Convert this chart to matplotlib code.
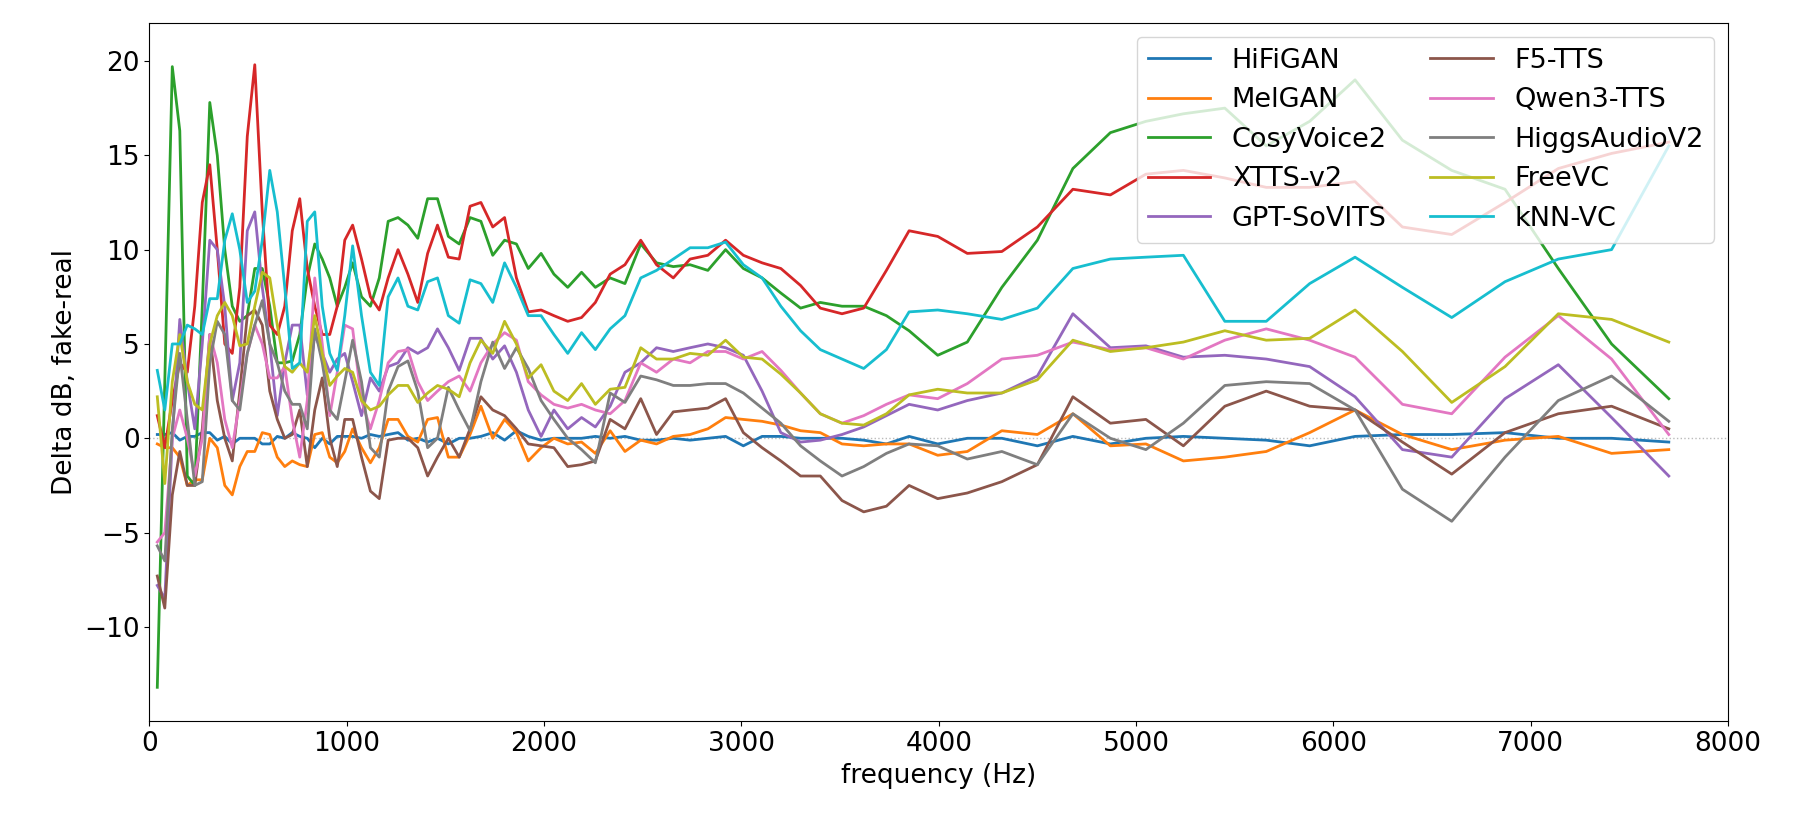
import matplotlib
matplotlib.use("Agg")
import matplotlib.pyplot as plt

freq_low = [40,78,116,154,192,230,268,306,344,382,420,458,496,534,572,610,648,686,724,762,800,838,876,914,952,990,
            1030,1075,1120,1165,1210,1260,1310,1360,1410,1460,1515,1570,1625,1680,1740,1800,1860,1920,1985,2050,2120]
freq_high = [2190,2260,2335,2410,2490,2570,2655,2740,2830,2920,3010,3105,3200,3300,3400,3510,3620,3735,3850,
             3995,4145,4320,4500,4680,4870,5050,5240,5450,5660,5880,6110,6350,6600,6870,7140,7410,7700]
freq = freq_low + freq_high

hifigan = [0.2,0.2,0.3,-0.1,0.1,0.1,0.3,0.3,-0.1,0.1,-0.3,0,0,0,-0.3,-0.3,0.1,0,0.3,0.1,0,-0.5,0,-0.3,0.1,0.1,
           0.1,0,0.2,0.1,0.2,0.3,-0.1,0,-0.2,0,-0.3,0,0,0.1,0.3,-0.1,0.4,0.1,-0.1,0,0] + \
          [0,0.1,0,0.1,-0.1,-0.1,0,-0.1,0,0.1,-0.4,0.1,0.1,0,0,0,-0.1,-0.3,0.1,-0.3,0,0,-0.4,0.1,-0.3,0,0.1,0,-0.1,-0.4,0.1,0.2,0.2,0.3,0,0,-0.2]
melgan = [-0.3,-0.5,-0.5,-1,-2.5,-2.2,-2.2,0,-0.5,-2.5,-3,-1.5,-0.7,-0.7,0.3,0.2,-1,-1.5,-1.2,-1.4,-1.5,0.2,0.3,-1,-1.3,-0.7,
          0.5,-0.5,-1.3,-0.5,1,1,0.1,-0.2,1,1.1,-1,-1,0.2,1.7,0,1,0.3,-1.2,-0.5,0,-0.3] + \
         [-0.2,-0.8,0.4,-0.7,-0.1,-0.3,0.1,0.2,0.5,1.1,1.0,0.9,0.7,0.4,0.3,-0.3,-0.4,-0.3,-0.3,-0.9,-0.7,0.4,0.2,
          1.3,-0.4,-0.3,-1.2,-1.0,-0.7,0.3,1.5,0.2,-0.6,-0.1,0.1,-0.8,-0.6]
cosyvoice2 = [-13.2,3,19.7,16.3,-2,-2.5,7,17.8,15,10,7,6.2,6.5,9,9,7,4,4,4.1,5.5,8.5,10.3,9.5,8.5,7,8,
              9.3,7.5,7,8.5,11.5,11.7,11.3,10.6,12.7,12.7,10.7,10.3,11.7,11.5,9.7,10.5,10.3,9,9.8,8.7,8] + \
             [8.8,8.0,8.5,8.2,10.3,9.3,9.1,9.2,8.9,10.0,9.0,8.5,7.7,6.9,7.2,7.0,7.0,6.5,5.7,4.4,5.1,8.0,10.5,
              14.3,16.2,16.8,17.2,17.5,15.5,16.8,19,15.8,14.2,13.2,9,5,2.1]
xtts = [1.2,-0.5,2,4,3.5,7,12.5,14.5,10,5,4.5,8,16,19.8,12,6,5.5,7,11,12.7,9,7,5.5,5.5,7,10.5,
        11.3,9.5,7.5,6.8,8.5,10,8.7,7.2,9.8,11.3,9.6,9.5,12.3,12.5,11.2,11.7,8.5,6.7,6.8,6.5,6.2] + \
       [6.4,7.2,8.7,9.2,10.5,9.2,8.5,9.5,9.7,10.5,9.7,9.3,9.0,8.1,6.9,6.6,6.9,8.9,11.0,10.7,9.8,9.9,11.2,
        13.2,12.9,14,14.2,13.8,13.3,13.3,13.6,11.2,10.8,12.5,14.3,15.1,15.7]
gptsovits = [-7.8,-8.5,0,6.3,3,0.5,5,10.5,10,7,2,4,11,12,8,5,1.2,4,6,6,2.3,5.5,4.5,3.5,4.2,4.5,
             3,1.2,3.2,2.5,3.8,4,4.8,4.5,4.8,5.8,4.8,3.6,5.3,5.3,4.2,4.9,3.5,1.5,0.1,1.5,0.5] + \
            [1.1,0.6,1.7,3.5,4.0,4.8,4.6,4.8,5.0,4.8,4.4,2.5,0.3,-0.2,-0.1,0.2,0.6,1.2,1.8,1.5,2.0,2.4,3.3,
             6.6,4.8,4.9,4.3,4.4,4.2,3.8,2.2,-0.6,-1.0,2.1,3.9,1.1,-2.0]
f5tts = [-7.3,-9,-3,-0.7,-2.5,-2.5,0.5,5.5,2,0,-1.2,2.5,6.5,6.8,6,2.5,1,0,0.2,1.5,-1.5,1.5,3.2,0,-1.5,1,
         1,-1,-2.8,-3.2,-0.1,0,0,-0.5,-2,-1,0,-1,0.5,2.2,1.5,1.2,0.5,-0.3,-0.4,-0.5,-1.5] + \
        [-1.4,-1.2,1.0,0.5,2.1,0.2,1.4,1.5,1.6,2.1,0.3,-0.5,-1.2,-2.0,-2.0,-3.3,-3.9,-3.6,-2.5,-3.2,-2.9,-2.3,-1.4,
         2.2,0.8,1.0,-0.4,1.7,2.5,1.7,1.5,-0.2,-1.9,0.3,1.3,1.7,0.5]
qwen3tts = [-5.5,-5,0,1.5,0,-2,0,5.5,4,1,-0.5,2,4.5,6,5,3.2,3.2,3.8,1,-1,2,8.5,5,1.2,3.5,6,
            5.8,2,0.5,2,4,4.6,4.7,3,2,2.5,3,3.3,2.5,4,5,5.6,5.2,3,2.3,1.8,1.6] + \
           [1.8,1.5,1.3,2.0,4.0,3.5,4.2,4.0,4.6,4.6,4.2,4.6,3.6,2.4,1.3,0.8,1.2,1.8,2.3,2.1,2.9,4.2,4.4,
            5.1,4.7,4.8,4.2,5.2,5.8,5.2,4.3,1.8,1.3,4.3,6.5,4.2,0.2]
higgs = [-5.7,-6.5,0.5,4.5,1,-2.5,-2.3,4,6.2,5.5,2,1.5,4.5,6,7.3,5,4,2.5,1.8,1.8,0.5,5.8,4,1.5,1,3,
         5.2,3,-0.5,-1,2.5,3.8,4.1,2.5,-0.5,0,2.7,1.5,0.4,3,5.1,3.7,4.8,3.7,2,1,0] + \
        [-0.6,-1.3,2.4,1.9,3.3,3.1,2.8,2.8,2.9,2.9,2.4,1.6,0.8,-0.4,-1.2,-2.0,-1.5,-0.8,-0.3,-0.4,-1.1,-0.7,-1.4,
         1.3,0,-0.6,0.8,2.8,3.0,2.9,1.5,-2.7,-4.4,-1.0,2.0,3.3,0.9]
freevc = [2.2,-2.4,3,5.5,3,1.8,1.5,5,6.5,7.2,6.5,4.9,5,7,8.8,8.5,6,3.8,3.5,4,3.5,6.5,4.5,2.8,3.3,3.7,
          3.5,2,1.5,1.7,2.3,2.8,2.8,1.9,2.4,2.8,2.6,2.2,4,5.2,4.5,6.2,5,3.2,3.9,2.5,2] + \
         [2.9,1.8,2.6,2.7,4.8,4.2,4.2,4.5,4.4,5.2,4.3,4.2,3.4,2.4,1.3,0.8,0.7,1.3,2.3,2.6,2.4,2.4,3.1,
          5.2,4.6,4.8,5.1,5.7,5.2,5.3,6.8,4.6,1.9,3.8,6.6,6.3,5.1]
knnvc = [3.6,1.5,5,5,6,5.8,5.5,7.4,7.4,10.5,11.9,10,7.2,7.8,10.5,14.2,12,8,3.7,4,11.5,12,7,4.5,3.6,6.5,
         10.2,6.5,3.5,2.8,7.5,8.5,7,6.8,8.3,8.5,6.5,6.1,8.4,8.2,7.2,9.3,8,6.5,6.5,5.5,4.5] + \
        [5.6,4.7,5.8,6.5,8.5,8.9,9.5,10.1,10.1,10.4,9.2,8.5,7.0,5.7,4.7,4.2,3.7,4.7,6.7,6.8,6.6,6.3,6.9,
         9.0,9.5,9.6,9.7,6.2,6.2,8.2,9.6,8.0,6.4,8.3,9.5,10,15.5]

series = [("HiFiGAN", hifigan), ("MelGAN", melgan), ("CosyVoice2", cosyvoice2), ("XTTS-v2", xtts),
          ("GPT-SoVITS", gptsovits), ("F5-TTS", f5tts), ("Qwen3-TTS", qwen3tts),
          ("HiggsAudioV2", higgs), ("FreeVC", freevc), ("kNN-VC", knnvc)]

fig = plt.figure(figsize=(18, 8.3), dpi=100)
ax = fig.add_axes([0.083, 0.131, 0.877, 0.841])
for name, vals in series:
    n = min(len(freq), len(vals))
    ax.plot(freq[:n], vals[:n], label=name, linewidth=2)
ax.axhline(0, color="#bbbbbb", linestyle=":", linewidth=1, zorder=0)
ax.set_xlim(0, 8000)
ax.set_ylim(-15, 22)
ax.set_yticks([-10, -5, 0, 5, 10, 15, 20])
ax.tick_params(labelsize=19)
ax.set_xlabel("frequency (Hz)", fontsize=19)
ax.set_ylabel("Delta dB, fake-real", fontsize=19)
ax.legend(ncol=2, loc="upper right", fontsize=19.5, columnspacing=1.6, handlelength=2.3)
fig.savefig("out.png", dpi=100)
